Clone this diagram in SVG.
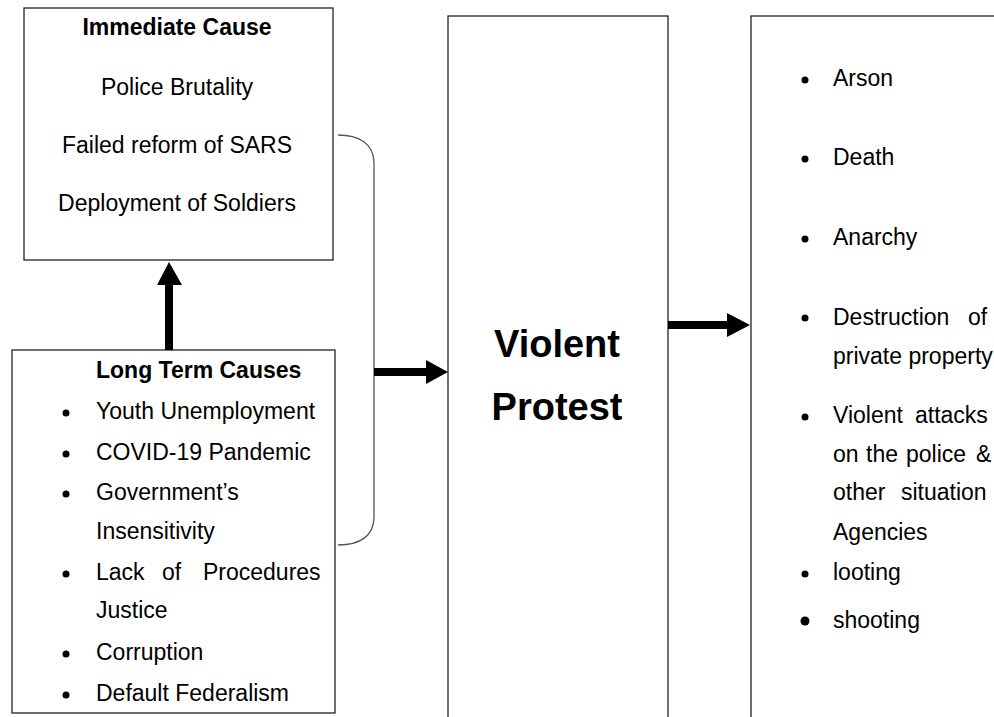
<svg xmlns="http://www.w3.org/2000/svg" width="994" height="717" viewBox="0 0 994 717">
<style>
  .box { fill: #fff; stroke: #222; stroke-width: 1.3; }
  .t { font-family: "Liberation Sans", Arial, sans-serif; font-size: 23px; fill: #000; }
  .b { font-weight: bold; }
  .big { font-family: "Liberation Sans", Arial, sans-serif; font-size: 38px; font-weight: bold; fill: #000; }
  .dot { fill: #000; }
  .brace { fill: none; stroke: #555; stroke-width: 1.3; }
  .arrow { fill: #000; stroke: none; }
</style>
<rect width="994" height="717" fill="#fff"/>

<g id="immediate-cause">
  <rect class="box" x="24" y="8" width="309" height="252"/>
  <text class="t b" x="177" y="35" text-anchor="middle">Immediate Cause</text>
  <text class="t" x="177" y="95" text-anchor="middle">Police Brutality</text>
  <text class="t" x="177" y="153" text-anchor="middle">Failed reform of SARS</text>
  <text class="t" x="177" y="211" text-anchor="middle">Deployment of Soldiers</text>
</g>

<g id="long-term-causes">
  <rect class="box" x="12" y="350" width="323" height="363"/>
  <text class="t b" x="96" y="378">Long Term Causes</text>
  <circle class="dot" cx="66" cy="413" r="3.5"/>
  <text class="t" x="96" y="419">Youth Unemployment</text>
  <circle class="dot" cx="66" cy="454" r="3.5"/>
  <text class="t" x="96" y="460">COVID-19 Pandemic</text>
  <circle class="dot" cx="66" cy="494" r="3.5"/>
  <text class="t" x="96" y="500">Government’s</text>
  <text class="t" x="96" y="539">Insensitivity</text>
  <circle class="dot" cx="66" cy="574" r="3.5"/>
  <text class="t" y="580"><tspan x="96">Lack</tspan><tspan x="162">of</tspan><tspan x="203">Procedures</tspan></text>
  <text class="t" x="96" y="618">Justice</text>
  <circle class="dot" cx="66" cy="654" r="3.5"/>
  <text class="t" x="96" y="660">Corruption</text>
  <circle class="dot" cx="66" cy="695" r="3.5"/>
  <text class="t" x="96" y="701">Default Federalism</text>
</g>

<g id="violent-protest">
  <rect class="box" x="448" y="16" width="220" height="710"/>
  <text class="big" x="557" y="357" text-anchor="middle">Violent</text>
  <text class="big" x="557" y="420" text-anchor="middle">Protest</text>
</g>

<g id="consequences">
  <rect class="box" x="751" y="16" width="260" height="710"/>
  <circle class="dot" cx="805" cy="80" r="3.5"/>
  <text class="t" x="833" y="86">Arson</text>
  <circle class="dot" cx="805" cy="159" r="3.5"/>
  <text class="t" x="833" y="165">Death</text>
  <circle class="dot" cx="805" cy="239" r="3.5"/>
  <text class="t" x="833" y="245">Anarchy</text>
  <circle class="dot" cx="805" cy="318" r="3.5"/>
  <text class="t" y="325"><tspan x="833">Destruction</tspan><tspan x="968">of</tspan></text>
  <text class="t" x="833" y="364">private property</text>
  <circle class="dot" cx="805" cy="417" r="3.5"/>
  <text class="t" y="423"><tspan x="833">Violent</tspan><tspan x="915">attacks</tspan></text>
  <text class="t" y="462"><tspan x="833">on</tspan><tspan x="866">the</tspan><tspan x="906">police</tspan><tspan x="976">&amp;</tspan></text>
  <text class="t" y="500"><tspan x="833">other</tspan><tspan x="901">situation</tspan></text>
  <text class="t" x="833" y="540">Agencies</text>
  <circle class="dot" cx="805" cy="574" r="3.5"/>
  <text class="t" x="833" y="580">looting</text>
  <circle class="dot" cx="805" cy="621" r="4.5"/>
  <text class="t" x="833" y="628">shooting</text>
</g>

<g id="connectors">
  <path class="brace" d="M338 135 C358 135 374 143 374 163 L374 517 C374 536 360 545 338 545"/>
  <polygon class="arrow" points="165,350 165,285 157,285 169,262 182,285 173,285 173,350"/>
  <polygon class="arrow" points="374,368 426,368 426,360 448,372 426,384 426,376 374,376"/>
  <polygon class="arrow" points="668,321 727,321 727,313 750,325 727,337 727,329 668,329"/>
</g>
</svg>
